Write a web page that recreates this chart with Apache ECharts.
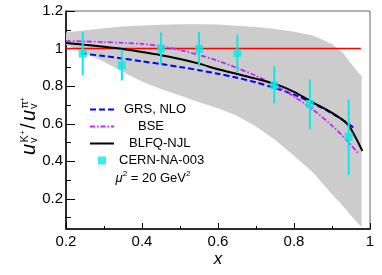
<!DOCTYPE html>
<html><head><meta charset="utf-8">
<script src="https://cdn.jsdelivr.net/npm/echarts@6/dist/echarts.min.js"></script>
<style>html,body{margin:0;padding:0;background:#fff}#c{width:382px;height:275px}</style>
</head><body><div id="c"></div>
<script>
// ---- data ----
const xTickValues = [0.2, 0.4, 0.6, 0.8, 1.0];
const yTickValues = [0.2, 0.4, 0.6, 0.8, 1, 1.2];
const yMinorValues = [0.1, 0.3, 0.5, 0.7, 0.9, 1.1];

const bandX     = [0.2, 0.25, 0.3, 0.35, 0.4, 0.45, 0.5, 0.55, 0.6, 0.65, 0.7, 0.75, 0.8, 0.85, 0.9, 0.93, 0.95, 0.97, 0.978];
const bandUpper = [1.085, 1.097, 1.108, 1.117, 1.123, 1.127, 1.13, 1.13, 1.128, 1.122, 1.115, 1.104, 1.09, 1.07, 1.025, 0.975, 0.92, 0.87, 0.855];
const bandLower = [1.02, 0.975, 0.93, 0.875, 0.825, 0.785, 0.75, 0.715, 0.682, 0.642, 0.585, 0.515, 0.43, 0.34, 0.225, 0.16, 0.11, 0.065, 0.05];

const refX = [0.2, 0.976];
const refY = [1, 1];

const grsX = [0.24, 0.3, 0.35, 0.4, 0.45, 0.5, 0.55, 0.6, 0.65, 0.7, 0.75, 0.8, 0.85, 0.9, 0.93, 0.96];
const grsY = [0.975, 0.96, 0.947, 0.932, 0.918, 0.902, 0.885, 0.866, 0.845, 0.82, 0.79, 0.755, 0.71, 0.655, 0.618, 0.575];

const bseX = [0.2, 0.25, 0.3, 0.35, 0.4, 0.45, 0.5, 0.55, 0.6, 0.65, 0.7, 0.75, 0.8, 0.85, 0.9, 0.94, 0.97];
const bseY = [1.04, 1.038, 1.035, 1.03, 1.025, 1.013, 0.992, 0.966, 0.935, 0.897, 0.855, 0.805, 0.745, 0.675, 0.59, 0.51, 0.44];

const blfqX = [0.2, 0.25, 0.3, 0.35, 0.4, 0.45, 0.5, 0.55, 0.6, 0.65, 0.7, 0.75, 0.8, 0.85, 0.9, 0.94, 0.96, 0.98];
const blfqY = [1.03, 1.02, 1.01, 0.998, 0.982, 0.965, 0.945, 0.92, 0.89, 0.865, 0.84, 0.812, 0.77, 0.713, 0.658, 0.6, 0.535, 0.455];

const dataX  = [0.244, 0.347, 0.45, 0.55, 0.651, 0.748, 0.842, 0.944];
const dataY  = [0.973, 0.911, 1.0, 0.998, 0.977, 0.805, 0.705, 0.531];
const dataHi = [1.088, 0.995, 1.085, 1.088, 1.074, 0.906, 0.836, 0.729];
const dataLo = [0.857, 0.83, 0.915, 0.906, 0.876, 0.708, 0.57, 0.328];

// ---- build ----
const zip = (a, b) => a.map((v, i) => [v, b[i]]);
const FONT = 'Liberation Sans';
const CYAN = '#10e6e6';
const legendNames = ['GRS, NLO', 'BSE', 'BLFQ-NJL', 'CERN-NA-003'];
const legendPad = [5, 19, 10, 0];
const richLegend = {};
legendNames.forEach((k, i) => {
  richLegend['p' + i] = { fontSize: 13, fontFamily: FONT, color: '#000', padding: [0, 0, 0, legendPad[i]] };
});

const chart = echarts.init(document.getElementById('c'), null, { renderer: 'canvas' });
const option = {
  animation: false,
  grid: { left: 66, right: 12, top: 11, bottom: 46, show: true, borderColor: '#666', borderWidth: 1, backgroundColor: 'transparent' },
  xAxis: {
    type: 'value', min: 0.2, max: 1.0, interval: 0.2,
    name: 'x', nameLocation: 'middle', nameGap: 22, nameMoveOverlap: false,
    nameTextStyle: { fontFamily: FONT, fontSize: 17, fontStyle: 'italic', color: '#000' },
    axisLine: { lineStyle: { color: '#000', width: 1.5 } },
    axisTick: { inside: true, length: 6, lineStyle: { color: '#000' } },
    minorTick: { show: true, splitNumber: 2, length: 3, lineStyle: { color: '#000' } },
    splitLine: { show: false },
    axisLabel: { fontFamily: FONT, fontSize: 15, color: '#000', margin: 5 }
  },
  yAxis: [{
    type: 'value', min: 0.04, max: 1.2,
    axisLine: { show: true, lineStyle: { color: '#000', width: 1.5 } },
    axisTick: { inside: true, length: 9, customValues: yTickValues, lineStyle: { color: '#000' } },
    axisLabel: { customValues: yTickValues, fontFamily: FONT, fontSize: 15, color: '#000', margin: 3 },
    splitLine: { show: false }
  }, {
    type: 'value', min: 0.04, max: 1.2, position: 'left',
    axisLine: { show: false },
    axisTick: { inside: true, length: 5, customValues: yMinorValues, lineStyle: { color: '#000' } },
    axisLabel: { show: false, customValues: yMinorValues },
    splitLine: { show: false }
  }],
  legend: {
    orient: 'vertical', left: 89, top: 102, padding: 0,
    itemWidth: 24, itemHeight: 8, itemGap: 2, symbolKeepAspect: true,
    data: [
      { name: legendNames[0], itemStyle: { opacity: 0 } },
      { name: legendNames[1], itemStyle: { opacity: 0 } },
      { name: legendNames[2], itemStyle: { opacity: 0 } },
      { name: legendNames[3], icon: 'path://M0,0L8,0L8,8L0,8Z' }
    ],
    textStyle: { fontFamily: FONT, fontSize: 13, color: '#000', lineHeight: 15, rich: richLegend },
    formatter: function (name) {
      const i = legendNames.indexOf(name);
      return '{p' + i + '|' + name + '}';
    }
  },
  graphic: [
    {
      type: 'group', x: 29, y: 155, rotation: Math.PI / 2, silent: true,
      children: [
        { type: 'text', x: 0, y: 0, style: { text: 'u', font: 'italic 20px ' + FONT, fill: '#000', verticalAlign: 'middle' } },
        { type: 'text', x: 12, y: 5, style: { text: 'v', font: '11px ' + FONT, fill: '#000', verticalAlign: 'middle' } },
        { type: 'text', x: 12.5, y: -4, style: { text: 'K', font: '11px ' + FONT, fill: '#000', verticalAlign: 'middle' } },
        { type: 'text', x: 20, y: -6.5, style: { text: '+', font: '8px ' + FONT, fill: '#000', verticalAlign: 'middle' } },
        { type: 'text', x: 26, y: 0, style: { text: '/', font: '20px ' + FONT, fill: '#000', verticalAlign: 'middle' } },
        { type: 'text', x: 34, y: 0, style: { text: 'u', font: 'italic 20px ' + FONT, fill: '#000', verticalAlign: 'middle' } },
        { type: 'text', x: 46, y: 5, style: { text: 'v', font: '11px ' + FONT, fill: '#000', verticalAlign: 'middle' } },
        { type: 'text', x: 46.5, y: -4, style: { text: 'π', font: '11px ' + FONT, fill: '#000', verticalAlign: 'middle' } },
        { type: 'text', x: 53, y: -6.5, style: { text: '+', font: '8px ' + FONT, fill: '#000', verticalAlign: 'middle' } }
      ]
    },
    {
      type: 'text', x: 153, y: 178, silent: true,
      style: {
        text: '{i|μ}{s|2}{n| = 20 GeV}{s|2}',
        align: 'center', verticalAlign: 'middle',
        rich: {
          i: { font: 'italic 13px ' + FONT, fill: '#000', lineHeight: 16 },
          n: { font: '13px ' + FONT, fill: '#000', lineHeight: 16 },
          s: { font: '8px ' + FONT, fill: '#000', lineHeight: 16, verticalAlign: 'top' }
        }
      }
    }
  ],
  series: [
    {
      type: 'custom', name: 'band', silent: true, z: 1,
      data: [[bandX[0], bandLower[0]]],
      renderItem: function (params, api) {
        const pts = [];
        for (let i = 0; i < bandX.length; i++) pts.push(api.coord([bandX[i], bandUpper[i]]));
        for (let i = bandX.length - 1; i >= 0; i--) pts.push(api.coord([bandX[i], bandLower[i]]));
        return { type: 'polygon', shape: { points: pts }, style: { fill: '#cccccc' } };
      }
    },
    {
      type: 'line', name: 'ref', data: zip(refX, refY), symbol: 'none', z: 2, silent: true,
      lineStyle: { color: '#ff0000', width: 1.5 }
    },
    {
      type: 'line', name: 'GRS, NLO', data: zip(grsX, grsY), symbol: 'none', smooth: 0.3, z: 3,
      itemStyle: { color: '#0000ff' },
      lineStyle: { color: '#0000ff', width: 2, type: [6, 3] }
    },
    {
      type: 'line', name: 'BSE', data: zip(bseX, bseY), symbol: 'none', smooth: 0.3, z: 3,
      itemStyle: { color: '#cc22ff' },
      lineStyle: { color: '#cc22ff', width: 1.8, type: [5, 2, 1.5, 2] }
    },
    {
      type: 'line', name: 'BLFQ-NJL', data: zip(blfqX, blfqY), symbol: 'none', smooth: 0.3, z: 3,
      itemStyle: { color: '#000' },
      lineStyle: { color: '#000', width: 2 }
    },
    {
      type: 'custom', name: 'errors', z: 4, silent: true,
      data: dataX.map((x, i) => [x, dataLo[i], dataHi[i]]),
      encode: { x: 0, y: [1, 2] },
      renderItem: function (params, api) {
        const p1 = api.coord([api.value(0), api.value(1)]);
        const p2 = api.coord([api.value(0), api.value(2)]);
        return { type: 'line', shape: { x1: p1[0], y1: p1[1], x2: p2[0], y2: p2[1] }, style: { stroke: CYAN, lineWidth: 2 } };
      }
    },
    {
      type: 'scatter', name: 'CERN-NA-003', data: zip(dataX, dataY), z: 5,
      symbol: 'rect', symbolSize: 8, itemStyle: { color: CYAN }
    }
  ]
};
chart.setOption(option);
</script>
</body></html>
